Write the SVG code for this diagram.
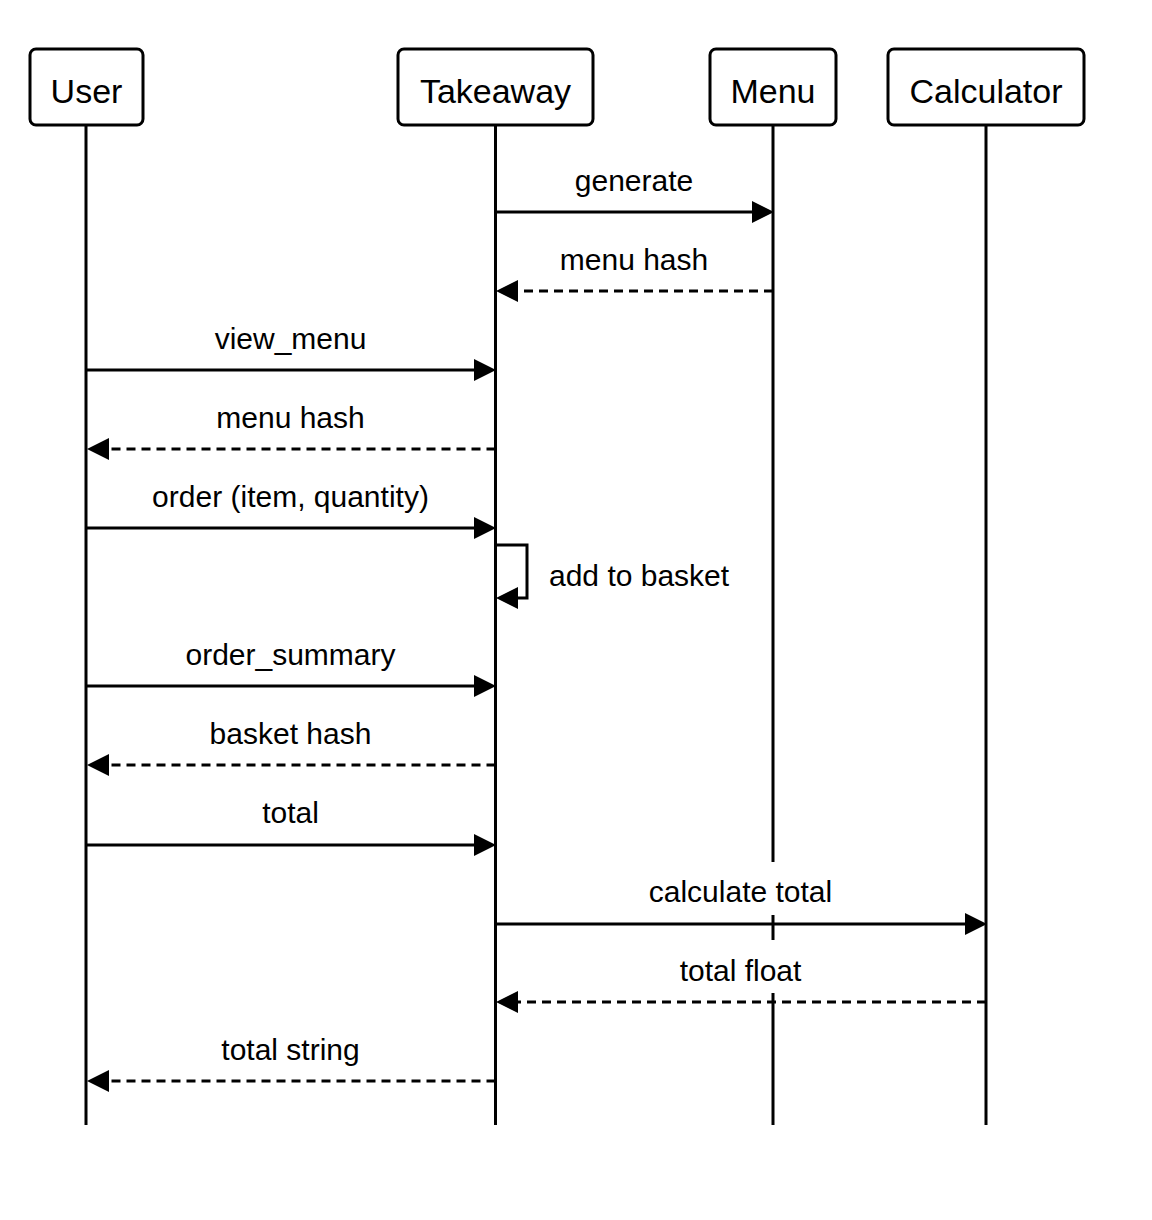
<svg xmlns="http://www.w3.org/2000/svg" width="1152" height="1220" viewBox="0 0 1152 1220">
<style>
.box{fill:#fff;stroke:#000;stroke-width:3}
.hd{font-family:"Liberation Sans",Arial,sans-serif;font-size:34px;fill:#000;text-anchor:middle}
.life{stroke:#000;stroke-width:3;fill:none}
.msg{stroke:#000;stroke-width:3;fill:none;marker-end:url(#ah)}
.ret{stroke:#000;stroke-width:3;fill:none;stroke-dasharray:9 6;marker-end:url(#ah)}
.lbl{font-family:"Liberation Sans",Arial,sans-serif;font-size:30px;fill:#000;text-anchor:middle}
.bg{fill:#fff}
</style>
<defs>
<marker id="ah" markerUnits="userSpaceOnUse" markerWidth="24" markerHeight="24" refX="13" refY="11" orient="auto">
<path d="M0,0 L22,11 L0,22 z" fill="#000"/>
</marker>
</defs>
<rect width="1152" height="1220" fill="#fff"/>
<g id="lifelines">
<line class="life" x1="86" y1="125" x2="86" y2="1125"/>
<line class="life" x1="495.5" y1="125" x2="495.5" y2="1125"/>
<line class="life" x1="773" y1="125" x2="773" y2="1125"/>
<line class="life" x1="986" y1="125" x2="986" y2="1125"/>
</g>
<g id="User"><rect class="box" x="30" y="49" width="113" height="76" rx="6"/><text class="hd" x="86.5" y="103">User</text></g>
<g id="Takeaway"><rect class="box" x="398" y="49" width="195" height="76" rx="6"/><text class="hd" x="495.5" y="103">Takeaway</text></g>
<g id="Menu"><rect class="box" x="710" y="49" width="126" height="76" rx="6"/><text class="hd" x="773" y="103">Menu</text></g>
<g id="Calculator"><rect class="box" x="888" y="49" width="196" height="76" rx="6"/><text class="hd" x="986" y="103">Calculator</text></g>
<g id="connectors">
<rect class="bg" x="640" y="862" width="202" height="53"/>
<rect class="bg" x="670" y="940" width="142" height="53"/>
<line class="msg" x1="495.5" y1="212" x2="765" y2="212"/>
<text class="lbl" x="634" y="191">generate</text>
<line class="ret" x1="773" y1="291" x2="505" y2="291"/>
<text class="lbl" x="634" y="270">menu hash</text>
<line class="msg" x1="86" y1="370" x2="487" y2="370"/>
<text class="lbl" x="290.5" y="349">view_menu</text>
<line class="ret" x1="495.5" y1="449" x2="96" y2="449"/>
<text class="lbl" x="290.5" y="428">menu hash</text>
<line class="msg" x1="86" y1="528" x2="487" y2="528"/>
<text class="lbl" x="290.5" y="507">order (item, quantity)</text>
<path class="msg" d="M495.5,545 H527 V598 H505"/>
<text class="lbl" x="549" y="586" text-anchor="start" style="text-anchor:start">add to basket</text>
<line class="msg" x1="86" y1="686" x2="487" y2="686"/>
<text class="lbl" x="290.5" y="665">order_summary</text>
<line class="ret" x1="495.5" y1="765" x2="96" y2="765"/>
<text class="lbl" x="290.5" y="744">basket hash</text>
<line class="msg" x1="86" y1="845" x2="487" y2="845"/>
<text class="lbl" x="290.5" y="823">total</text>
<line class="msg" x1="495.5" y1="924" x2="978" y2="924"/>
<text class="lbl" x="740.5" y="902">calculate total</text>
<line class="ret" x1="986" y1="1002" x2="505" y2="1002"/>
<text class="lbl" x="740.5" y="981">total float</text>
<line class="ret" x1="495.5" y1="1081" x2="96" y2="1081"/>
<text class="lbl" x="290.5" y="1060">total string</text>
</g>
</svg>
